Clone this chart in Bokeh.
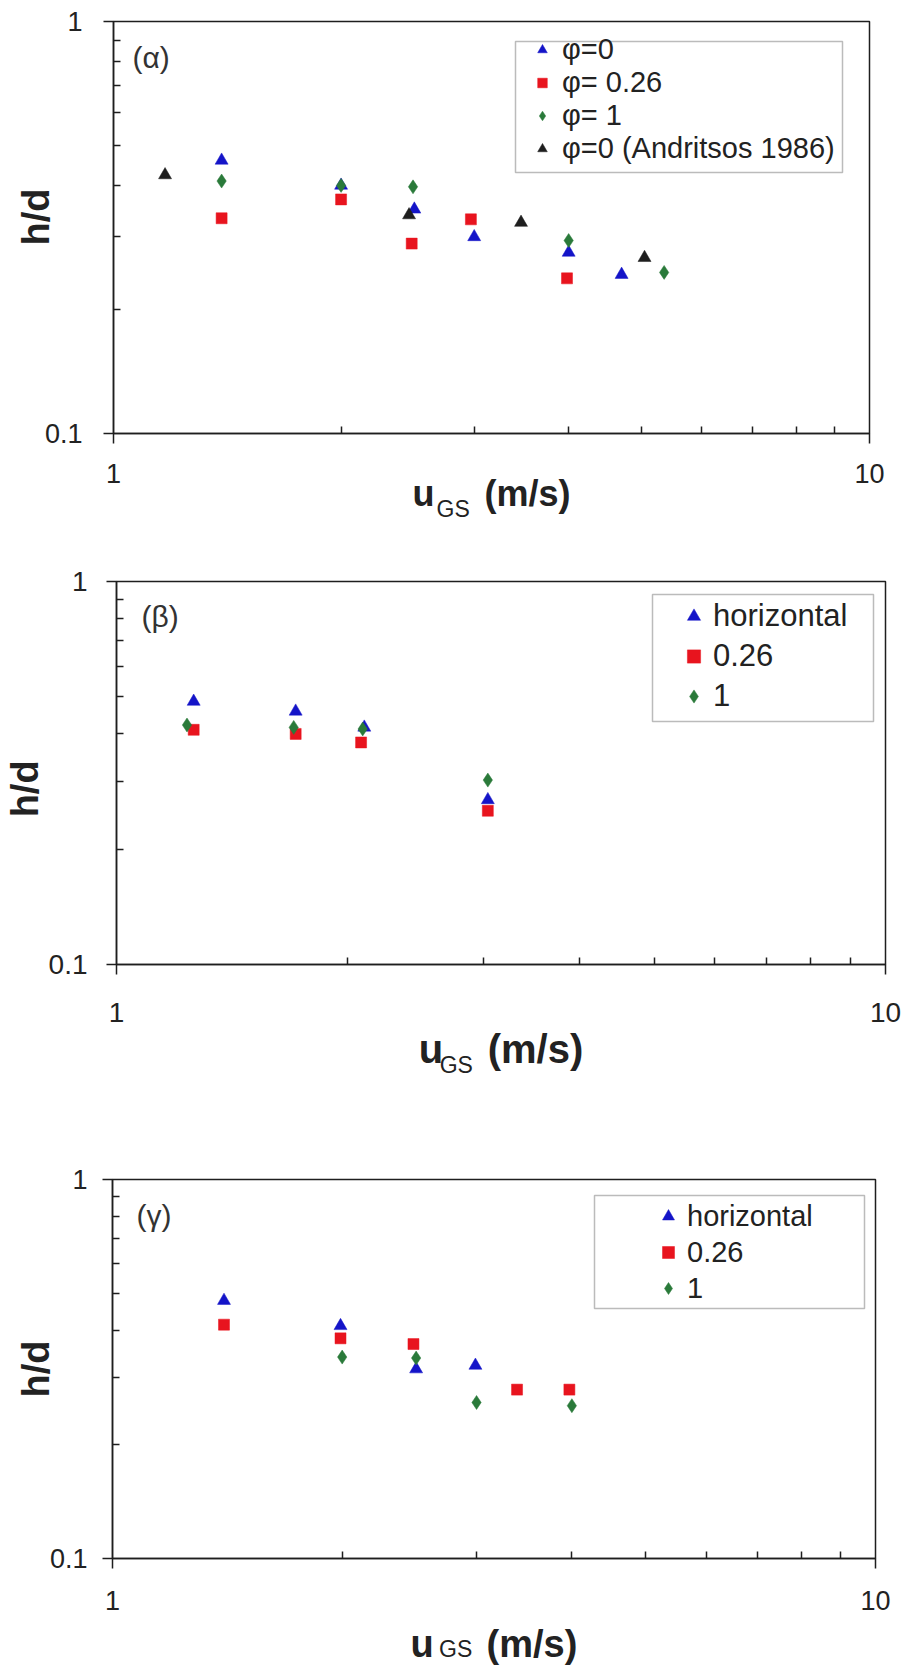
from bokeh.plotting import figure
from bokeh.models import (Range1d, FixedTicker, CustomJSTickFormatter, Legend,
                          LegendItem, Label, BoxAnnotation, LogAxis)
from bokeh.embed import file_html
from bokeh.resources import INLINE

# ---------------- data ----------------
# Panel (α)
a_phi0_x = [1.39, 2.0, 2.5, 3.0, 4.0, 4.7]
a_phi0_y = [0.46, 0.40, 0.35, 0.30, 0.275, 0.243]
a_phi026_x = [1.39, 2.0, 2.48, 2.97, 3.98]
a_phi026_y = [0.333, 0.37, 0.289, 0.331, 0.238]
a_phi1_x = [1.39, 2.0, 2.49, 4.0, 5.35]
a_phi1_y = [0.41, 0.40, 0.397, 0.294, 0.246]
a_andr_x = [1.17, 2.46, 3.46, 5.04]
a_andr_y = [0.424, 0.339, 0.325, 0.267]
a_labels = ["\u03c6=0", "\u03c6= 0.26", "\u03c6= 1", "\u03c6=0 (Andritsos 1986)"]

# Panel (β)
b_hor_x = [1.26, 1.71, 2.10, 3.04]
b_hor_y = [0.486, 0.458, 0.416, 0.269]
b_026_x = [1.26, 1.71, 2.08, 3.04]
b_026_y = [0.41, 0.40, 0.38, 0.252]
b_1_x = [1.235, 1.70, 2.09, 3.04]
b_1_y = [0.422, 0.416, 0.412, 0.303]
b_labels = ["horizontal", "0.26", "1"]

# Panel (γ)
g_hor_x = [1.40, 1.99, 2.50, 2.99]
g_hor_y = [0.479, 0.411, 0.316, 0.323]
g_026_x = [1.40, 1.99, 2.48, 3.39, 3.97]
g_026_y = [0.414, 0.381, 0.368, 0.279, 0.279]
g_1_x = [2.0, 2.5, 3.0, 4.0]
g_1_y = [0.34, 0.338, 0.258, 0.253]
g_labels = ["horizontal", "0.26", "1"]

x_major = [1, 10]
x_minor = [2, 3, 4, 5, 6, 7, 8, 9]
y_major = [0.1, 1]
y_minor = [0.2, 0.3, 0.4, 0.5, 0.6, 0.7, 0.8, 0.9]
panel_tags = ["(\u03b1)", "(\u03b2)", "(\u03b3)"]
x_title_main = "u"
x_title_sub = "GS"
x_title_unit = "(m/s)"
y_title = "h/d"

BLUE = "#1414c8"
RED = "#e8141e"
GREEN = "#2a7a3a"
BLACK = "#1e1e1e"
FONT = "Liberation Sans"
TXT = "#222222"
NB = "\u00a0"

fmt = CustomJSTickFormatter(code="return tick >= 1 ? tick.toFixed(0) : tick.toFixed(1);")


def blank_axis(label, size, style, standoff):
    return LogAxis(ticker=FixedTicker(ticks=[], minor_ticks=[]),
                   axis_line_color=None, major_tick_line_color=None,
                   minor_tick_line_color=None, major_tick_out=0,
                   minor_tick_out=0, major_tick_in=0, minor_tick_in=0,
                   major_label_standoff=0,
                   axis_label=label, axis_label_text_font=FONT,
                   axis_label_text_font_style=style,
                   axis_label_text_font_size=f"{size}px",
                   axis_label_text_color=TXT,
                   axis_label_standoff=standoff)


def make_panel(height, mb, series, labels, tag, tick_fs, x_standoff, y_standoff,
               ylab_pad, ylab_standoff, xt, tag_pos, leg, box):
    mb_top, mb_bottom, mb_left, mb_right = mb
    p = figure(width=905, height=height, x_axis_type="log", y_axis_type="log",
               x_range=Range1d(1, 10), y_range=Range1d(0.1, 1),
               output_backend="svg", toolbar_location=None,
               min_border_top=mb_top, min_border_bottom=mb_bottom,
               min_border_left=mb_left, min_border_right=mb_right)
    p.xgrid.visible = False
    p.ygrid.visible = False
    p.outline_line_color = BLACK
    p.outline_line_width = 1.5
    p.background_fill_color = "white"
    p.border_fill_color = "white"

    p.xaxis.ticker = FixedTicker(ticks=x_major, minor_ticks=x_minor)
    p.yaxis.ticker = FixedTicker(ticks=y_major, minor_ticks=y_minor)
    for ax, so in ((p.xaxis, x_standoff), (p.yaxis, y_standoff)):
        ax.formatter = fmt
        ax.axis_line_color = BLACK
        ax.axis_line_width = 1.5
        ax.major_tick_line_color = BLACK
        ax.major_tick_line_width = 1.5
        ax.minor_tick_line_color = BLACK
        ax.minor_tick_line_width = 1.5
        ax.major_tick_in = 0
        ax.major_tick_out = 10
        ax.minor_tick_in = 7
        ax.minor_tick_out = 0
        ax.major_label_text_font = FONT
        ax.major_label_text_font_size = f"{tick_fs}px"
        ax.major_label_text_color = TXT
        ax.major_label_standoff = so

    # y axis title
    lead, trail = ylab_pad
    p.yaxis.axis_label = NB * lead + y_title + NB * trail
    p.yaxis.axis_label_text_font = FONT
    p.yaxis.axis_label_text_font_style = "bold"
    p.yaxis.axis_label_text_font_size = "38px"
    p.yaxis.axis_label_text_color = TXT
    p.yaxis.axis_label_standoff = ylab_standoff

    # x axis title: "u" ... "(m/s)" bold on the main axis, "GS" subscript on a 2nd axis
    main_fs, main_so, gap, sub_fs, sub_so, sub_trail = xt
    p.xaxis.axis_label = x_title_main + NB * gap + x_title_unit
    p.xaxis.axis_label_text_font = FONT
    p.xaxis.axis_label_text_font_style = "bold"
    p.xaxis.axis_label_text_font_size = f"{main_fs}px"
    p.xaxis.axis_label_text_color = TXT
    p.xaxis.axis_label_standoff = main_so

    p.add_layout(blank_axis(x_title_sub + NB * sub_trail, sub_fs, "normal", sub_so),
                 "below")

    items = []
    for (xs, ys, marker, color, size), lab in zip(series, labels):
        r = p.scatter(xs, ys, marker=marker, size=size, fill_color=color,
                      line_color=color, line_width=0.5)
        items.append(LegendItem(label=lab, renderers=[r]))

    # legend frame
    bl, br, bb, bt = box
    p.add_layout(BoxAnnotation(left=bl, right=br, bottom=bb, top=bt,
                               left_units="screen", right_units="screen",
                               bottom_units="screen", top_units="screen",
                               fill_color="white", fill_alpha=1.0,
                               line_color=BLACK, line_width=1.5,
                               level="underlay"))
    (lx, ly, rh, gw, standoff, lfs) = leg
    legend = Legend(items=items, location=(lx, ly), padding=0, spacing=0,
                    margin=0, label_height=rh, glyph_width=gw, glyph_height=rh,
                    label_standoff=standoff, label_width=20,
                    label_text_font=FONT, label_text_font_size=f"{lfs}px",
                    label_text_color=TXT, label_text_baseline="middle",
                    border_line_alpha=0, background_fill_alpha=0)
    p.add_layout(legend)

    # panel tag
    p.add_layout(Label(x=tag_pos[0], y=tag_pos[1], x_units="screen", y_units="screen",
                       text=tag, text_font=FONT, text_font_size="30px",
                       text_color="#333333", text_baseline="middle",
                       text_align="left"))
    return p


p1 = make_panel(
    530, (21, 97, 113, 36),
    [(a_phi0_x, a_phi0_y, "triangle", BLUE, 13),
     (a_phi026_x, a_phi026_y, "square", RED, 11),
     (a_phi1_x, a_phi1_y, "diamond", GREEN, 14),
     (a_andr_x, a_andr_y, "triangle", BLACK, 13)],
    a_labels, panel_tags[0], 27, 20, 21, (2, 0), -15,
    (36, -13, 5, 23, -21, 12), (19, 376),
    (417, 268, 29, 24, 8, 29), (402, 729, 261, 392))

p2 = make_panel(
    570, (51, 136, 116, 20),
    [(b_hor_x, b_hor_y, "triangle", BLUE, 13),
     (b_026_x, b_026_y, "square", RED, 11),
     (b_1_x, b_1_y, "diamond", GREEN, 14)],
    b_labels, panel_tags[1], 28, 28, 19, (0, 3), 0,
    (40, 2, 4, 23, -22, 14), (25, 348),
    (561, 248, 40, 33, 3, 31), (536, 757, 243, 370))

p3 = make_panel(
    567, (79, 107, 112, 30),
    [(g_hor_x, g_hor_y, "triangle", BLUE, 13),
     (g_026_x, g_026_y, "square", RED, 11),
     (g_1_x, g_1_y, "diamond", GREEN, 14)],
    g_labels, panel_tags[2], 27, 22, 15, (0, 0), -10,
    (38, 10, 5, 23, -32, 12), (24, 343),
    (541, 252, 36, 30, 4, 29), (482, 752, 250, 363))

open("out.html", "w").write(file_html([p1, p2, p3], INLINE))
